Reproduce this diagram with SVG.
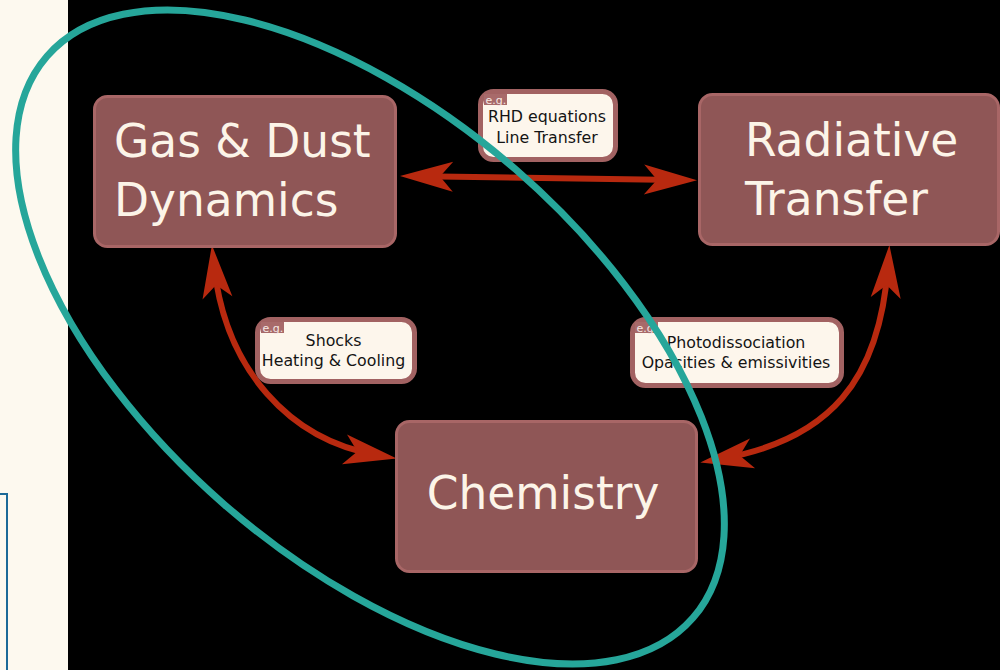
<svg xmlns="http://www.w3.org/2000/svg" width="1000" height="670" viewBox="0 0 1000 670">
<defs>
<style>
.node{fill:#8f5656;stroke:#a86666;stroke-width:3}
.ntxt{font-family:"DejaVu Sans",sans-serif;font-size:45.5px;fill:#fcf4e8}
.lbl{fill:#fdf6ec;stroke:#a26262;stroke-width:5}
.ltxt{font-family:"DejaVu Sans",sans-serif;font-size:15.8px;fill:#141414;text-anchor:middle}
.tag{fill:#a86a6a}
.ttxt{font-family:"DejaVu Sans",sans-serif;font-size:11px;fill:#f6e8e4}
.conn{fill:none;stroke:#b8290f;stroke-width:6}
</style>
<marker id="ah" markerUnits="userSpaceOnUse" viewBox="-40 -18 64 36" markerWidth="64" markerHeight="36" refX="0" refY="0" orient="auto-start-reverse">
<path d="M20,0 L-33,-15 L-20,0 L-33,15 Z" fill="#b8290f"/>
</marker>
</defs>
<rect x="0" y="0" width="1000" height="670" fill="#000"/>
<rect x="0" y="0" width="68" height="670" fill="#fdf9ef"/>
<rect x="-100" y="494" width="107" height="200" fill="none" stroke="#1d6a98" stroke-width="2"/>

<g id="connectors">
<path class="conn" d="M420,176.3 L677,180" marker-start="url(#ah)" marker-end="url(#ah)"/>
<path class="conn" d="M214,265 C225,370 290,440 377,455" marker-start="url(#ah)" marker-end="url(#ah)"/>
<path class="conn" d="M888,265 C880,380 830,440 720,459" marker-start="url(#ah)" marker-end="url(#ah)"/>
</g>

<g id="gas-dust">
<rect class="node" x="94.5" y="96.5" width="301" height="150" rx="13"/>
<text class="ntxt" x="114" y="157">Gas &amp; Dust</text>
<text class="ntxt" x="114" y="216">Dynamics</text>
</g>
<g id="radiative">
<rect class="node" x="699.5" y="94.5" width="299" height="150" rx="13"/>
<text class="ntxt" x="745" y="156">Radiative</text>
<text class="ntxt" x="745" y="215">Transfer</text>
</g>
<g id="chemistry">
<rect class="node" x="396.5" y="421.5" width="300" height="150" rx="13"/>
<text class="ntxt" x="543" y="509" text-anchor="middle">Chemistry</text>
</g>

<g id="label-rhd">
<rect class="lbl" x="480.5" y="91.5" width="135" height="68" rx="13"/>
<rect class="tag" x="484" y="94" width="23" height="11"/>
<text class="ttxt" x="485.5" y="103.5">e.g.</text>
<text class="ltxt" x="547" y="122">RHD equations</text>
<text class="ltxt" x="547" y="143">Line Transfer</text>
</g>
<g id="label-shocks">
<rect class="lbl" x="257.5" y="319.5" width="157" height="62" rx="13"/>
<rect class="tag" x="261" y="322" width="23" height="11"/>
<text class="ttxt" x="262.5" y="331.5">e.g.</text>
<text class="ltxt" x="333.5" y="346">Shocks</text>
<text class="ltxt" x="333.5" y="366">Heating &amp; Cooling</text>
</g>
<g id="label-photo">
<rect class="lbl" x="632.5" y="319.5" width="209" height="66" rx="13"/>
<rect class="tag" x="635" y="322" width="23" height="11"/>
<text class="ttxt" x="636.5" y="331.5">e.g.</text>
<text class="ltxt" x="736" y="348">Photodissociation</text>
<text class="ltxt" x="736" y="368">Opacities &amp; emissivities</text>
</g>

<g id="group-ellipse">
<ellipse cx="370" cy="337" rx="428" ry="222" transform="rotate(41 370 337)" fill="none" stroke="#26a69a" stroke-width="7"/>
</g>
</svg>
